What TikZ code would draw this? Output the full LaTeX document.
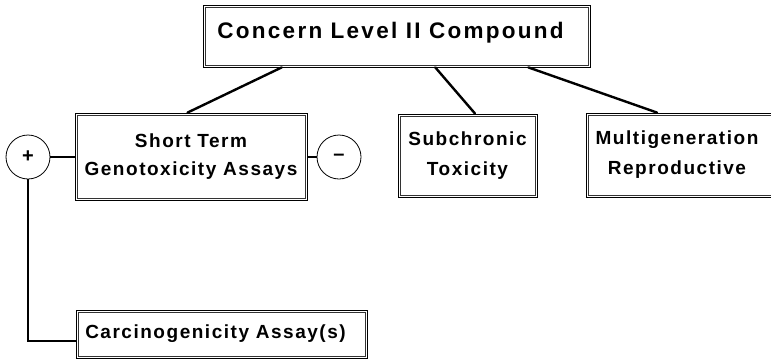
\documentclass[tikz,border=0pt]{standalone}
\usepackage{fontspec}
\setmainfont{Liberation Sans}[LetterSpace=8]
\newfontfamily\titlefont{Liberation Sans}[LetterSpace=10]
\usetikzlibrary{calc}

\tikzset{
  boxframe/.style={rectangle, draw=black, line width=0.8pt,
                inner sep=0pt, align=center, font=\fontsize{19}{28.5}\selectfont\bfseries},
  inner rule/.style={draw=black!80, line width=0.6pt},
  label text/.style={inner sep=0pt, align=center, font=\fontsize{19}{30}\selectfont\bfseries},
  sign/.style={circle, draw=black, line width=0.8pt, minimum size=44pt, inner sep=0pt,
               font=\fontsize{20}{20}\selectfont\bfseries},
  link/.style={line width=2.4pt, line cap=round},
  stub/.style={line width=2.2pt},
}

\begin{document}
\begin{tikzpicture}[x=1pt, y=-1pt]
  \useasboundingbox (0,0) rectangle (771,362);
  \clip (0,0) rectangle (771,362);

  % boxes
  \node[boxframe, minimum width=387pt, minimum height=62pt,
        font=\titlefont\fontsize{22.5}{26}\selectfont\bfseries, text height=16pt, text depth=11pt]
        (top) at (396.5,36) {Concern Level II Compound\hspace*{12pt}};
  \node[boxframe, minimum width=232pt, minimum height=87pt]
        (st) at (191,156.5) {Short Term\\Genotoxicity Assays};
  \node[boxframe, minimum width=139pt, minimum height=83pt, font=\fontsize{19}{30}\selectfont\bfseries]
        (sub) at (467.5,155.5) {Subchronic\\Toxicity};
  \node[boxframe, minimum width=195pt, minimum height=84pt]
        (mg) at (683.5,155) {};
  \node[label text] (mgt) at (677,155) {Multigeneration\\Reproductive};
  \node[boxframe, minimum width=291pt, minimum height=48pt]
        (carc) at (221.5,334) {Carcinogenicity Assay(s)\hspace*{12pt}};

  % second, inner rule of each double frame
  \foreach \n in {top,st,sub,mg,carc}
    \draw[inner rule] ([xshift=2.4pt,yshift=-2.4pt]\n.north west)
                      rectangle ([xshift=-2.4pt,yshift=2.4pt]\n.south east);

  % outcome circles
  \node[sign] (plus) at (28,157) {+};
  \node[sign] (minus) at (339,157) {–};

  % branches from the compound
  \draw[link] ($(top.south west)!0.204!(top.south east)$) -- ($(st.north west)!0.485!(st.north east)$);
  \draw[link] ($(top.south west)!0.60!(top.south east)$) -- ($(sub.north west)!0.554!(sub.north east)$);
  \draw[link] ($(top.south west)!0.84!(top.south east)$) -- ($(mg.north west)!0.365!(mg.north east)$);

  % outcome links
  \draw[stub] (plus.east) -- (plus.east -| st.west);
  \draw[stub] (st.east |- minus.west) -- (minus.west);
  \coordinate (cj) at ($(carc.south west)!0.35!(carc.north west)$);
  \draw[stub] (plus.south) |- (cj);
\end{tikzpicture}
\end{document}
